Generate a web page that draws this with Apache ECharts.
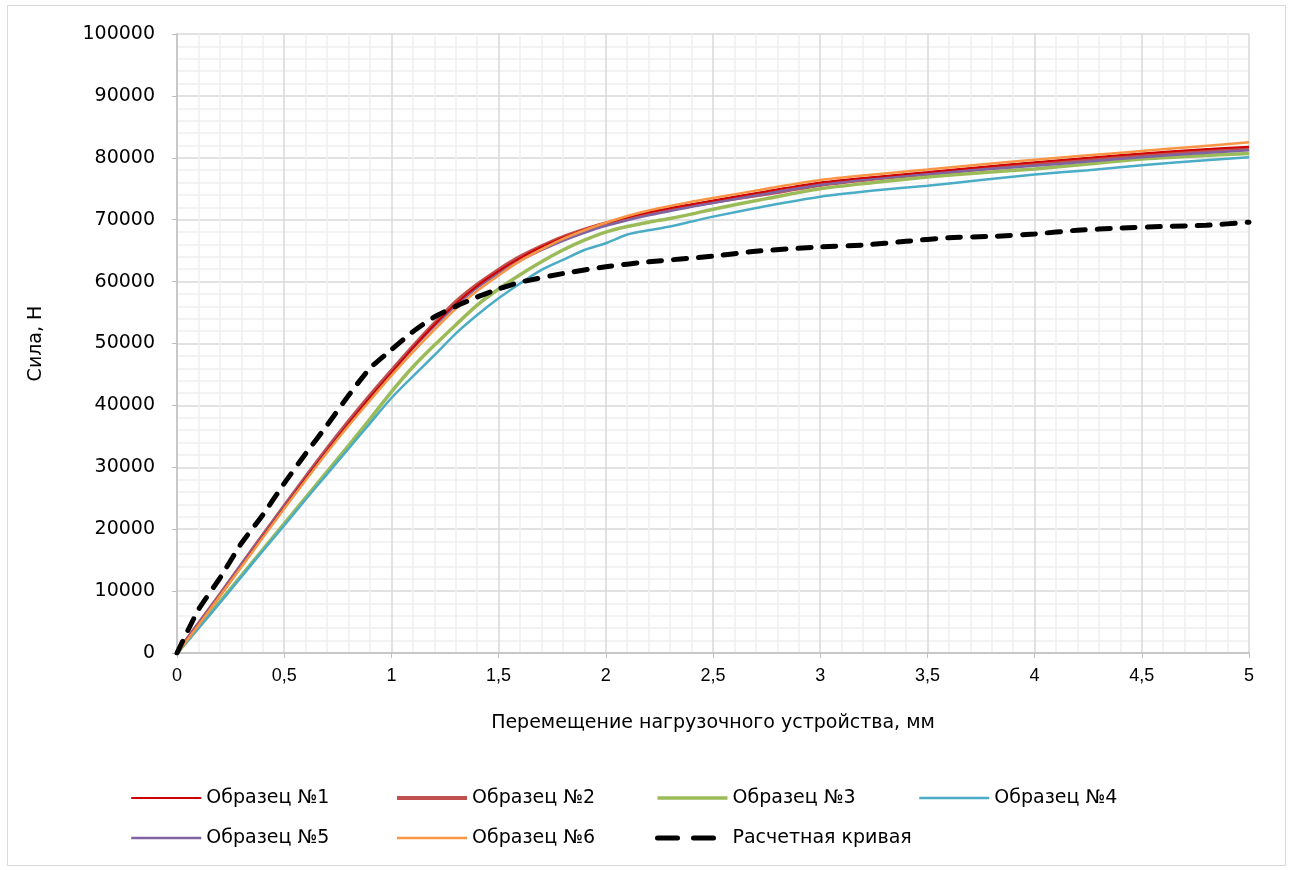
<!DOCTYPE html>
<html>
<head>
<meta charset="utf-8">
<script src="https://cdn.jsdelivr.net/npm/echarts@6/dist/echarts.min.js"></script>
<style>
html,body{margin:0;padding:0;background:#fff;}
#chart{width:1293px;height:870px;}
</style>
</head>
<body>
<div id="chart"></div>
<script>
// Displacement (mm) grid of the experimental curves
const X_EXP = [0,0.1,0.2,0.3,0.4,0.5,0.6,0.7,0.8,0.9,1.0,1.1,1.2,1.3,1.4,1.5,1.6,1.7,1.8,1.9,2.0,2.1,2.2,2.3,2.4,2.5,2.75,3.0,3.25,3.5,3.75,4.0,4.25,4.5,4.75,5.0];
// Force (N) for each sample
const Y_S1 = [0,4600,9300,14000,18800,23500,28200,32700,37100,41300,45300,49300,53000,56400,59300,61700,63800,65600,67100,68400,69500,70400,71200,71900,72500,73100,74600,76000,76900,77700,78500,79300,80000,80700,81300,81800];
const Y_S2 = [0,4700,9400,14200,19000,23700,28400,33000,37400,41600,45600,49500,53200,56700,59500,61900,64000,65700,67200,68400,69400,70300,71000,71700,72300,72900,74200,75600,76600,77400,78200,79000,79700,80400,81000,81500];
const Y_S3 = [0,4100,8300,12500,16700,20900,25100,29300,33500,37800,42200,46200,49700,53000,56200,58800,61100,63200,65100,66700,68000,68900,69600,70200,70900,71700,73400,75000,76000,76900,77600,78200,79000,79800,80300,80700];
const Y_S4 = [0,4000,8100,12300,16500,20600,24800,28900,33000,37100,41200,44700,48100,51600,54600,57300,59700,61900,63500,65100,66200,67600,68300,68900,69700,70500,72200,73700,74700,75500,76400,77300,78000,78800,79500,80100];
const Y_S5 = [0,4800,9500,14300,19000,23700,28300,32800,37100,41300,45300,49200,52800,56100,59000,61300,63400,65100,66600,67900,69000,69900,70700,71400,72100,72700,74200,75600,76600,77400,78100,78700,79400,80100,80700,81200];
const Y_S6 = [0,4500,9200,13900,18600,23300,27900,32400,36700,40800,44800,48600,52200,55600,58500,61000,63300,65200,66900,68300,69500,70600,71500,72200,72900,73500,75000,76400,77300,78100,78900,79700,80400,81100,81800,82500];
// Calculated curve
const X_CALC = [0,0.1,0.2,0.3,0.4,0.5,0.6,0.7,0.8,0.9,1.0,1.1,1.2,1.3,1.4,1.5,1.6,1.8,2.0,2.2,2.5,2.7,3.0,3.2,3.4,3.6,3.8,4.0,4.2,4.4,4.6,4.8,5.0];
const Y_CALC = [0,7000,12100,17700,22300,27400,32200,36800,41600,46000,49000,51900,54300,56000,57500,58800,59900,61300,62400,63200,64100,64900,65600,65900,66500,67100,67300,67700,68300,68650,68900,69100,69600];

const NAMES = ['Образец №1','Образец №2','Образец №3','Образец №4','Образец №5','Образец №6','Расчетная кривая'];
const COLORS = ['#D00000','#C0504D','#9BBB59','#4BACC6','#8064A2','#F79646','#000000'];
const WIDTHS = [2,4,3.5,2.5,2.5,2.5,5];
const DASH = [13,12];

const zip = (xs, ys) => xs.map((x,i)=>[x, ys[i]]);
const expY = [Y_S1,Y_S2,Y_S3,Y_S4,Y_S5,Y_S6];
const zs = [3,1,2,2,2,3];

const series = expY.map((ys,i)=>({
  name: NAMES[i], type:'line', data: zip(X_EXP, ys), showSymbol:false, symbol:'none',
  smooth:0.25, z: zs[i], color: COLORS[i],
  lineStyle:{color:COLORS[i], width:WIDTHS[i]}
}));
series.push({
  name: NAMES[6], type:'line', data: zip(X_CALC, Y_CALC), showSymbol:false, symbol:'none',
  smooth:0.2, z:5, color:'#000',
  lineStyle:{color:'#000', width:5, type:DASH, cap:'round'}
});

const legItem = (i) => ({
  name: NAMES[i],
  itemStyle:{opacity:0},
  lineStyle: i === 6 ? {color:'#000', width:5, type:[20,16], cap:'round'} : {color:COLORS[i], width:WIDTHS[i]}
});

const fontF = "'DejaVu Sans', sans-serif";
const legendBase = {orient:'vertical', top:788, padding:0, itemWidth:70, itemHeight:14, itemGap:20,
  itemStyle:{opacity:0},
  textStyle:{fontFamily:fontF, fontSize:19, color:'#000', lineHeight:20}};
const legends = [
  {left:130, data:[legItem(0),legItem(4)]},
  {left:395, data:[legItem(1),legItem(5)]},
  {left:655, data:[legItem(2),legItem(6)]},
  {left:918, data:[legItem(3)]}
].map(l=>Object.assign({}, legendBase, l));

const chart = echarts.init(document.getElementById('chart'), null, {renderer:'canvas'});
chart.setOption({
  backgroundColor:'#fff',
  animation:false,
  graphic:[{type:'rect', shape:{x:7.5,y:5.5,width:1278,height:860}, style:{fill:'none', stroke:'#d9d9d9', lineWidth:1}, z:-1}],
  grid:{left:177, right:44, top:34, bottom:217, containLabel:false},
  legend: legends,
  xAxis:{
    type:'value', min:0, max:5, interval:0.5,
    name:'Перемещение нагрузочного устройства, мм', nameLocation:'middle', nameGap:61,
    nameTextStyle:{fontFamily:fontF, fontSize:19, color:'#000'},
    axisLine:{show:true, lineStyle:{color:'#bfbfbf', width:1.5}},
    axisTick:{show:true, length:5, lineStyle:{color:'#bfbfbf'}},
    axisLabel:{margin:14, fontFamily:"'Liberation Sans', sans-serif", fontSize:18, color:'#000',
      formatter:(v)=>String(v).replace('.',',')},
    splitLine:{show:true, lineStyle:{color:'#d9d9d9', width:1.5}},
    minorTick:{show:false, splitNumber:5},
    minorSplitLine:{show:true, lineStyle:{color:'#efefef', width:1.5}}
  },
  yAxis:{
    type:'value', min:0, max:100000, interval:10000,
    name:'Сила, Н', nameLocation:'middle', nameGap:131, nameRotate:90,
    nameTextStyle:{fontFamily:fontF, fontSize:19, color:'#000'},
    axisLine:{show:true, lineStyle:{color:'#bfbfbf', width:1.5}},
    axisTick:{show:true, length:5, lineStyle:{color:'#bfbfbf'}},
    axisLabel:{margin:22, fontFamily:fontF, fontSize:19, color:'#000', formatter:(v)=>String(v)},
    splitLine:{show:true, lineStyle:{color:'#d9d9d9', width:1.5}},
    minorTick:{show:false, splitNumber:5},
    minorSplitLine:{show:true, lineStyle:{color:'#efefef', width:1.5}}
  },
  series: series
});
</script>
</body>
</html>
